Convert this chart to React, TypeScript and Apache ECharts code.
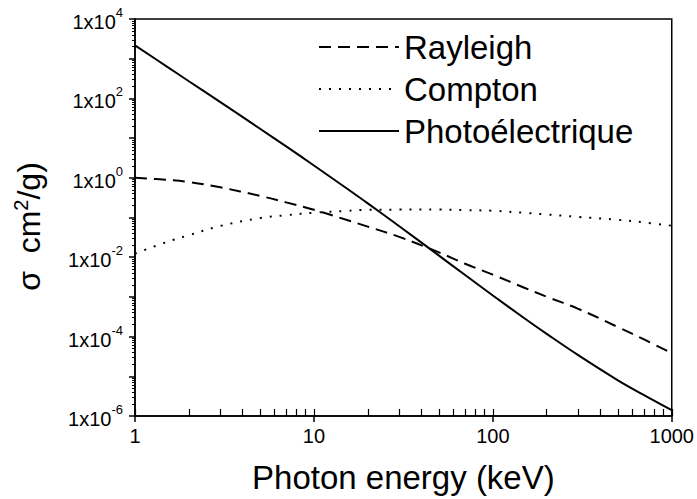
import React, { useEffect, useRef } from 'react';
import * as echarts from 'echarts';

const energy = [1, 1.5, 2, 3, 5, 7, 10, 15, 20, 30, 50, 70, 100, 150, 200, 300, 500, 700, 1000];
const rayleigh = [1.0, 0.89, 0.785, 0.575, 0.35, 0.24, 0.156, 0.089, 0.059, 0.0324, 0.0132, 0.00684, 0.00363, 0.0017, 0.00101, 5.0e-4, 1.74e-4, 8.5e-5, 3.8e-5];
const compton = [0.0123, 0.024, 0.0358, 0.0613, 0.0964, 0.114, 0.132, 0.146, 0.156, 0.158, 0.159, 0.153, 0.148, 0.131, 0.119, 0.1036, 0.0873, 0.0752, 0.062];
const photo = [2168, 643, 271, 80.4, 17.2, 6.17, 2.04, 0.57, 0.227, 0.0601, 0.01096, 0.003556, 0.001084, 2.904e-4, 1.172e-4, 3.404e-5, 7.925e-6, 3.365e-6, 1.403e-6];

const seriesNames = ['Rayleigh', 'Compton', 'Photoélectrique'];
const xTickLabels = [1, 10, 100, 1000];
const yTickLabels = [1e-6, 1e-4, 1e-2, 1, 1e2, 1e4];
const yDecades = [1e-6, 1e-5, 1e-4, 1e-3, 1e-2, 1e-1, 1, 10, 100, 1000, 1e4];
const xDecades = [1, 10, 100];
const minorSteps = [2, 3, 4, 5, 6, 7, 8, 9];

const xMinorTicks: number[] = [];
xDecades.forEach((d) => minorSteps.forEach((k) => xMinorTicks.push(k * d)));
const xInnerTicks = [...xTickLabels, ...xMinorTicks];
const yMinorTicks: number[] = [];
yDecades.slice(0, -1).forEach((d) => minorSteps.forEach((k) => yMinorTicks.push(k * d)));

const font = "'Liberation Sans', Arial, Helvetica, sans-serif";
const black = '#000';

const pairs = (ys: number[]) => energy.map((x, i) => [x, ys[i]]);

function buildOption() {
  const lineCommon = {
    type: 'line' as const,
    showSymbol: false,
    symbol: 'none',
    smooth: 0.4,
    xAxisIndex: 0,
    yAxisIndex: 0,
  };
  return {
    animation: false,
    backgroundColor: '#fff',
    textStyle: { fontFamily: font, color: black },
    grid: {
      left: 135,
      right: 22,
      top: 19,
      bottom: 78,
      show: true,
      borderColor: black,
      borderWidth: 1.5,
      backgroundColor: 'transparent',
    },
    legend: {
      orient: 'vertical',
      left: 313,
      top: 25,
      padding: 5,
      itemWidth: 80,
      itemHeight: 14,
      itemGap: 8,
      data: seriesNames,
      itemStyle: { opacity: 0 },
      textStyle: { fontSize: 33, lineHeight: 34, color: black, fontFamily: font },
    },
    xAxis: [
      {
        type: 'log',
        logBase: 10,
        min: 1,
        max: 1000,
        position: 'bottom',
        name: 'Photon energy (keV)',
        nameLocation: 'middle',
        nameGap: 45,
        nameTextStyle: { fontSize: 33, color: black, fontFamily: font },
        axisLine: { show: true, lineStyle: { color: black, width: 1.5 } },
        axisTick: { show: true, inside: false, length: 6, customValues: xTickLabels, lineStyle: { color: black, width: 1.5 } },
        axisLabel: {
          customValues: xTickLabels,
          fontSize: 20,
          color: black,
          margin: 10,
          fontFamily: font,
          formatter: (v: number) => String(Math.round(v)),
        },
        splitLine: { show: false },
        minorTick: { show: false },
      },
      {
        type: 'log',
        logBase: 10,
        min: 1,
        max: 1000,
        position: 'bottom',
        axisLine: { show: false },
        axisLabel: { show: false },
        axisTick: { show: true, inside: true, length: 7, customValues: xInnerTicks, lineStyle: { color: black, width: 1.2 } },
        splitLine: { show: false },
      },
    ],
    yAxis: [
      {
        type: 'log',
        logBase: 10,
        min: 1e-6,
        max: 1e4,
        position: 'left',
        name: 'σ  cm{s|2}/g)',
        nameLocation: 'middle',
        nameRotate: 90,
        nameGap: 88,
        nameTextStyle: {
          fontSize: 32,
          color: black,
          fontFamily: font,
          padding: [0, 18, 0, 0],
          rich: {
            s: { fontSize: 20, fontFamily: font, color: black, verticalAlign: 'top', lineHeight: 36 },
          },
        },
        axisLine: { show: true, lineStyle: { color: black, width: 1.5 } },
        axisTick: { show: true, inside: false, length: 6, customValues: yDecades, lineStyle: { color: black, width: 1.5 } },
        axisLabel: {
          customValues: yTickLabels,
          margin: 12,
          color: black,
          fontFamily: font,
          formatter: (v: number) => `{b|1x10}{s|${Math.round(Math.log10(v))}}`,
          rich: {
            b: { fontSize: 20, fontFamily: font, color: black, lineHeight: 26, verticalAlign: 'bottom' },
            s: { fontSize: 13, fontFamily: font, color: black, lineHeight: 26, verticalAlign: 'top' },
          },
        },
        splitLine: { show: false },
      },
      {
        type: 'log',
        logBase: 10,
        min: 1e-6,
        max: 1e4,
        position: 'left',
        axisLine: { show: false },
        axisLabel: { show: false },
        axisTick: { show: true, inside: false, length: 3, customValues: yMinorTicks, lineStyle: { color: black, width: 1 } },
        splitLine: { show: false },
      },
    ],
    series: [
      { ...lineCommon, name: seriesNames[0], data: pairs(rayleigh), lineStyle: { color: black, width: 2, type: [12, 7] }, itemStyle: { color: black } },
      { ...lineCommon, name: seriesNames[1], data: pairs(compton), lineStyle: { color: black, width: 2, type: [2, 8] }, itemStyle: { color: black } },
      { ...lineCommon, name: seriesNames[2], data: pairs(photo), lineStyle: { color: black, width: 2, type: 'solid' }, itemStyle: { color: black } },
    ],
  };
}

export default function App() {
  const ref = useRef<HTMLDivElement>(null);
  useEffect(() => {
    if (!ref.current) return;
    const chart = echarts.init(ref.current, null, { renderer: 'svg' });
    chart.setOption(buildOption() as any);
    return () => chart.dispose();
  }, []);
  return (
    <div
      ref={ref}
      style={{ position: 'absolute', left: 0, top: 0, width: 697, height: 499, background: '#fff' }}
    />
  );
}
